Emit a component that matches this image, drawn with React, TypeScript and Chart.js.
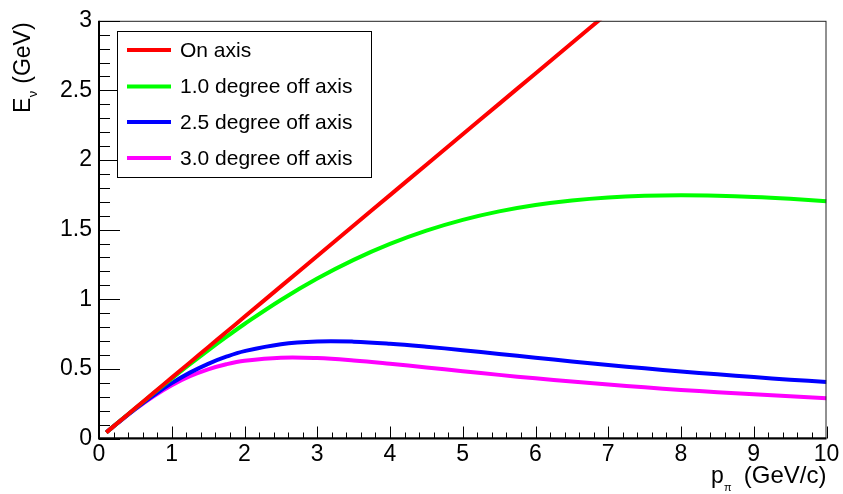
import React, { useEffect, useRef } from "react";
import { Chart, registerables } from "chart.js";

Chart.register(...registerables);

// pion momentum (GeV/c)
const pValues = [0.1, 0.25, 0.5, 0.75, 1, 1.25, 1.5, 1.75, 2, 2.5, 3, 3.5, 4, 4.5, 5, 5.5, 6, 6.5, 7, 7.5, 8, 8.5, 9, 9.5, 10];

// neutrino energy (GeV)
const onAxis = [0.0437, 0.1093, 0.2185, 0.3278, 0.437, 0.5463, 0.6555, 0.7648, 0.874, 1.0925, 1.311, 1.5295, 1.748, 1.9665, 2.185, 2.4035, 2.622, 2.8405, 3.059];
const offAxis10 = [0.0437, 0.1091, 0.2176, 0.3248, 0.4301, 0.5331, 0.633, 0.7296, 0.8223, 0.995, 1.149, 1.2833, 1.3978, 1.4932, 1.5705, 1.6313, 1.6773, 1.7101, 1.7317, 1.7435, 1.7471, 1.7438, 1.735, 1.7215, 1.7044];
const offAxis25 = [0.0436, 0.1084, 0.2129, 0.3101, 0.3974, 0.4731, 0.5365, 0.5877, 0.6275, 0.6774, 0.6968, 0.6955, 0.6813, 0.6597, 0.6342, 0.6072, 0.58, 0.5536, 0.5282, 0.5043, 0.4817, 0.4607, 0.441, 0.4226, 0.4055];
const offAxis30 = [0.0435, 0.108, 0.2105, 0.3029, 0.3822, 0.4468, 0.4968, 0.5334, 0.5582, 0.5804, 0.5777, 0.5609, 0.5371, 0.5104, 0.4833, 0.4569, 0.432, 0.4088, 0.3873, 0.3675, 0.3492, 0.3325, 0.3171, 0.3029, 0.2898];

const seriesLabels = ["On axis", "1.0 degree off axis", "2.5 degree off axis", "3.0 degree off axis"];
const seriesColors = ["#ff0000", "#00ff00", "#0000ff", "#ff00ff"];
const seriesValues = [onAxis, offAxis10, offAxis25, offAxis30];

const xTickValues = [0, 1, 2, 3, 4, 5, 6, 7, 8, 9, 10];
const yTickValues = [0, 0.5, 1, 1.5, 2, 2.5, 3];

const FONT = "'Liberation Sans', Arial, Helvetica, sans-serif";

const rootStylePlugin = {
  id: "rootStyle",
  afterDatasetsDraw(chart: any) {
    const { ctx, chartArea, scales } = chart;
    const xs = scales.x;
    const ys = scales.y;
    const { left, right, top, bottom } = chartArea;
    ctx.save();

    // frame
    ctx.strokeStyle = "#222";
    ctx.lineWidth = 1;
    ctx.strokeRect(left + 0.5, top + 0.5, right - left - 1, bottom - top - 1);
    // axes
    ctx.strokeStyle = "#000";
    ctx.lineWidth = 2;
    ctx.beginPath();
    ctx.moveTo(left, top);
    ctx.lineTo(left, bottom);
    ctx.lineTo(right, bottom);
    ctx.stroke();

    // ticks (inside)
    ctx.lineWidth = 1;
    ctx.beginPath();
    for (let i = 0; i <= 30; i++) {
      const py = Math.round(ys.getPixelForValue(i / 10)) + 0.5;
      const len = i % 5 === 0 ? 21 : 11;
      ctx.moveTo(left, py);
      ctx.lineTo(left + len, py);
    }
    for (let i = 0; i <= 50; i++) {
      const px = Math.round(xs.getPixelForValue(i / 5)) + 0.5;
      const len = i % 5 === 0 ? 12 : 6;
      ctx.moveTo(px, bottom);
      ctx.lineTo(px, bottom - len);
    }
    ctx.stroke();

    // legend
    const lx0 = 117, ly0 = 31, lx1 = 371, ly1 = 177;
    ctx.fillStyle = "#fff";
    ctx.fillRect(lx0, ly0, lx1 - lx0, ly1 - ly0);
    ctx.strokeStyle = "#000";
    ctx.lineWidth = 1;
    ctx.strokeRect(lx0 + 0.5, ly0 + 0.5, lx1 - lx0, ly1 - ly0);
    const rows = [50, 86.5, 122, 158];
    ctx.font = `21px ${FONT}`;
    ctx.textBaseline = "middle";
    ctx.textAlign = "left";
    chart.data.datasets.forEach((ds: any, i: number) => {
      const y = rows[i];
      ctx.strokeStyle = ds.borderColor;
      ctx.lineWidth = 4;
      ctx.beginPath();
      ctx.moveTo(127, y);
      ctx.lineTo(171, y);
      ctx.stroke();
      ctx.fillStyle = "#000";
      ctx.fillText(ds.label, 180, y + 1);
    });

    // x title: p_pi (GeV/c)
    ctx.fillStyle = "#000";
    ctx.textBaseline = "alphabetic";
    ctx.textAlign = "left";
    ctx.font = `23px ${FONT}`;
    ctx.fillText("p", 711, 483);
    ctx.textAlign = "right";
    ctx.font = `24px ${FONT}`;
    ctx.fillText("(GeV/c)", right, 483);
    ctx.textAlign = "left";
    ctx.font = `11px ${FONT}`;
    ctx.fillText("\u03c0", 724, 491);

    // y title: E_nu (GeV), rotated
    ctx.translate(30, 113);
    ctx.rotate(-Math.PI / 2);
    ctx.font = `23px ${FONT}`;
    ctx.fillText("E", 0, 0);
    const wE = ctx.measureText("E").width;
    ctx.font = `13px ${FONT}`;
    ctx.fillText("\u03bd", wE + 0.5, 7);
    const wNu = ctx.measureText("\u03bd").width;
    ctx.font = `23px ${FONT}`;
    ctx.fillText(" (GeV)", wE + wNu + 1, 0);

    ctx.restore();
  },
};

export default function App() {
  const canvasRef = useRef<HTMLCanvasElement | null>(null);

  useEffect(() => {
    const canvas = canvasRef.current;
    if (!canvas) return;
    const datasets = seriesValues.map((vals, i) => ({
      label: seriesLabels[i],
      data: vals.map((v, j) => ({ x: pValues[j], y: v })),
      borderColor: seriesColors[i],
      backgroundColor: seriesColors[i],
      borderWidth: 4,
      pointRadius: 0,
      fill: false,
      tension: 0.4,
      clip: 0,
    }));
    const chart = new Chart(canvas, {
      type: "line",
      data: { datasets },
      plugins: [rootStylePlugin],
      options: {
        responsive: false,
        animation: false,
        devicePixelRatio: 1,
        layout: { padding: { top: 20.5, right: 16.5, left: 0, bottom: 0 } },
        plugins: { legend: { display: false }, tooltip: { enabled: false } },
        scales: {
          x: {
            type: "linear",
            min: 0,
            max: 10,
            afterBuildTicks: (s: any) => {
              s.ticks = xTickValues.map((v) => ({ value: v }));
            },
            afterFit: (s: any) => {
              s.height = 55.5;
            },
            grid: { display: false, drawTicks: false },
            border: { display: false },
            ticks: {
              autoSkip: false,
              maxRotation: 0,
              padding: 2,
              color: "#000",
              font: { family: FONT, size: 23 },
              callback: (v: any) => String(v),
            },
          },
          y: {
            type: "linear",
            min: 0,
            max: 3,
            afterBuildTicks: (s: any) => {
              s.ticks = yTickValues.map((v) => ({ value: v }));
            },
            afterFit: (s: any) => {
              s.width = 99;
            },
            grid: { display: false, drawTicks: false },
            border: { display: false },
            ticks: {
              autoSkip: false,
              padding: 7,
              color: "#000",
              font: { family: FONT, size: 23 },
              callback: (v: any) => String(v),
            },
          },
        },
      },
    });
    return () => chart.destroy();
  }, []);

  return (
    <div style={{ position: "absolute", left: 0, top: 0, width: 843, height: 494, background: "#fff" }}>
      <canvas ref={canvasRef} width={843} height={494} style={{ display: "block" }} />
    </div>
  );
}
